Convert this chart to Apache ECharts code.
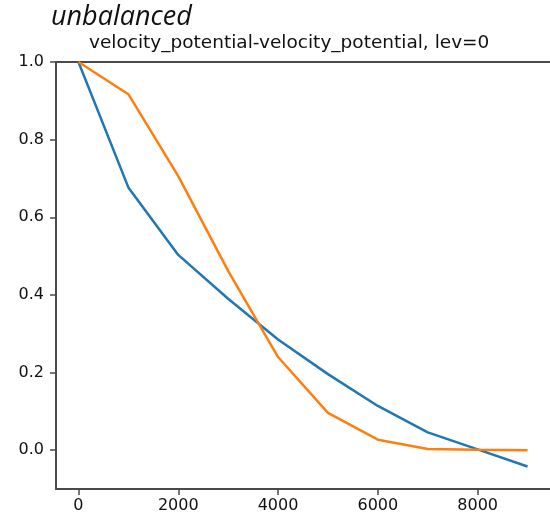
<!DOCTYPE html>
<html>
<head>
<meta charset="utf-8">
<script src="https://cdn.jsdelivr.net/npm/echarts@6/dist/echarts.min.js"></script>
<style>html,body{margin:0;padding:0;background:#fff;}#c{width:550px;height:518px;}</style>
</head>
<body>
<div id="c"></div>
<script>
const xValues = [0, 1000, 2000, 3000, 4000, 5000, 6000, 7000, 8000, 9000];
const blueValues = [1.0, 0.677, 0.503, 0.390, 0.285, 0.196, 0.114, 0.046, 0.002, -0.042];
const orangeValues = [1.0, 0.917, 0.706, 0.462, 0.240, 0.096, 0.027, 0.003, 0.001, 0.0];
const xTicks = [0, 2000, 4000, 6000, 8000];
const yTicks = [0, 0.2, 0.4, 0.6, 0.8, 1.0];
const mainTitle = 'unbalanced';
const subTitle = 'velocity_potential-velocity_potential, lev=0';

const chart = echarts.init(document.getElementById('c'), null, {renderer: 'canvas'});
const axisColor = '#4a4a4a';
const spine = {show: true, onZero: false, lineStyle: {color: axisColor, width: 2}};
chart.setOption({
  animation: false,
  backgroundColor: '#fff',
  graphic: [
    {type: 'text', left: 51, top: 4, style: {text: mainTitle, font: 'italic 27px "Open Sans"', fill: '#111'}},
    {type: 'text', left: 89, top: 34, style: {text: subTitle, font: '18.5px "DejaVu Sans"', fill: '#111'}}
  ],
  grid: {left: 56, top: 62, right: -1, bottom: 29},
  xAxis: [{
    type: 'value', min: -450, max: 9450, position: 'bottom',
    axisLine: spine,
    splitLine: {show: false},
    axisTick: {show: true, length: 6, lineStyle: {color: axisColor, width: 1.5}, customValues: xTicks},
    axisLabel: {customValues: xTicks, color: '#111', fontFamily: 'DejaVu Sans', fontSize: 16, margin: 9, formatter: v => String(v)}
  }, {
    type: 'value', min: -450, max: 9450, position: 'top',
    axisLine: spine,
    splitLine: {show: false},
    axisTick: {show: false},
    axisLabel: {show: false}
  }],
  yAxis: {
    type: 'value', min: -0.1, max: 1.0,
    axisLine: spine,
    splitLine: {show: false},
    axisTick: {show: true, length: 6, lineStyle: {color: axisColor, width: 1.5}, customValues: yTicks},
    axisLabel: {customValues: yTicks, color: '#111', fontFamily: 'DejaVu Sans', fontSize: 16, margin: 12, formatter: v => v.toFixed(1)}
  },
  series: [
    {type: 'line', xAxisIndex: 0, data: xValues.map((x, i) => [x, blueValues[i]]), showSymbol: false, lineStyle: {color: '#1f77b4', width: 2.5}, itemStyle: {color: '#1f77b4'}},
    {type: 'line', xAxisIndex: 0, data: xValues.map((x, i) => [x, orangeValues[i]]), showSymbol: false, lineStyle: {color: '#ff7f0e', width: 2.5}, itemStyle: {color: '#ff7f0e'}}
  ]
});
</script>
</body>
</html>
